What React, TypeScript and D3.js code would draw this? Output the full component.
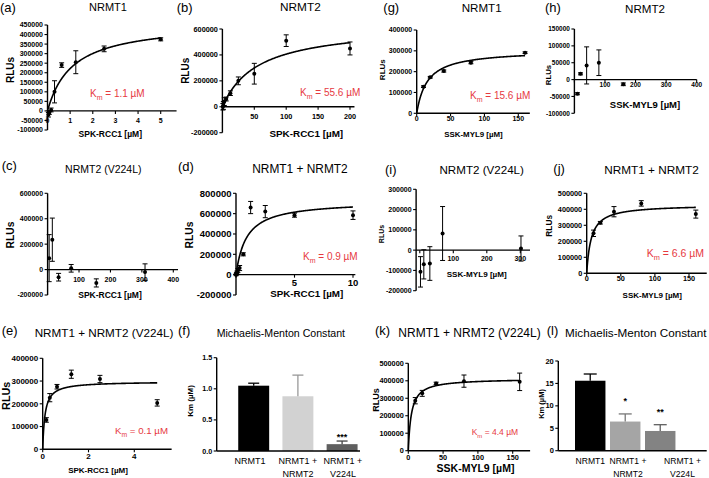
import * as React from 'react';
import * as d3 from 'd3';

// ---------- values ----------

// (a) NRMT1, SPK-RCC1
const aConc = [0.04, 0.08, 0.16, 0.31, 0.625, 1.25, 2.5, 5];
const aRlu = [-20000, -8000, 5000, 100000, 240000, 255000, 325000, 375000];
const aSem = [12000, 10000, 10000, 58000, 12000, 60000, 15000, 8000];
const aYTicks = [-100000, -50000, 0, 50000, 100000, 150000, 200000, 250000, 300000, 350000, 400000, 450000];
const aXTicks = [0, 1, 2, 3, 4, 5];

// (b) NRMT2, SPK-RCC1
const bConc = [0.8, 1.5, 3, 6, 12.5, 25, 50, 100, 200];
const bRlu = [0, 10000, 40000, 60000, 105000, 200000, 255000, 510000, 450000];
const bSem = [25000, 30000, 30000, 15000, 18000, 30000, 80000, 45000, 50000];
const bYTicks = [-200000, 0, 200000, 400000, 600000];
const bXTicks = [0, 50, 100, 150, 200];

// (c) NRMT2 (V224L), SPK-RCC1
const cConc = [5, 15, 35, 75, 155, 310];
const cRlu = [90000, 235000, -60000, 10000, -105000, -20000];
const cSem = [185000, 170000, 30000, 30000, 32000, 65000];
const cYTicks = [-200000, 0, 200000, 400000, 600000];
const cXTicks = [0, 100, 200, 300, 400];

// (d) NRMT1 + NRMT2, SPK-RCC1
const dConc = [0.02, 0.04, 0.08, 0.16, 0.31, 0.625, 1.25, 2.5, 5, 10];
const dRlu = [0, 10000, 20000, 40000, 65000, 200000, 660000, 620000, 585000, 585000];
const dSem = [10000, 10000, 15000, 20000, 25000, 15000, 60000, 60000, 20000, 42000];
const dYTicks = [-200000, 0, 200000, 400000, 600000, 800000];
const dXTicks = [0, 5, 10];

// (e) NRMT1 + NRMT2 (V224L), SPK-RCC1
const eConc = [0.16, 0.31, 0.625, 1.25, 2.5, 5];
const eRlu = [129000, 227000, 275000, 330000, 309000, 204000];
const eSem = [10000, 18000, 10000, 18000, 16000, 14000];
const eYTicks = [0, 100000, 200000, 300000, 400000];
const eXTicks = [0, 2, 4];

// (g) NRMT1, SSK-MYL9
const gConc = [10, 20, 40, 80, 160];
const gRlu = [128000, 173000, 203000, 243000, 291000];
const gSem = [4000, 4000, 5000, 5000, 4000];
const gYTicks = [0, 100000, 200000, 300000, 400000];
const gXTicks = [0, 50, 100, 150];

// (h) NRMT2, SSK-MYL9
const hConc = [10, 20, 40, 80, 160];
const hRlu = [-42000, 17000, 42000, 50000, -14000];
const hSem = [3000, 3000, 55000, 38000, 4000];
const hYTicks = [-100000, -50000, 0, 50000, 100000, 150000];
const hXTicks = [0, 100, 200, 300, 400];

// (i) NRMT2 (V224L), SSK-MYL9
const iConc = [2, 12, 30, 68, 302];
const iRlu = [-107000, -70000, -66000, 82000, 8000];
const iSem = [75000, 72000, 83000, 133000, 62000];
const iYTicks = [-200000, -100000, 0, 100000, 200000, 300000];
const iXTicks = [0, 100, 200, 300];

// (j) NRMT1 + NRMT2, SSK-MYL9
const jConc = [10, 20, 40, 80, 160];
const jRlu = [250000, 316000, 385000, 437000, 370000];
const jSem = [20000, 8000, 32000, 17000, 25000];
const jYTicks = [0, 100000, 200000, 300000, 400000, 500000];
const jXTicks = [0, 50, 100, 150];

// (k) NRMT1 + NRMT2 (V224L), SSK-MYL9
const kConc = [10, 20, 40, 80, 160];
const kRlu = [286000, 328000, 385000, 398000, 394000];
const kSem = [18000, 17000, 7000, 35000, 50000];
const kYTicks = [0, 100000, 200000, 300000, 400000, 500000];
const kXTicks = [0, 50, 100, 150];

// Michaelis-Menten fits (Km as printed, Vmax read from plateau)
const aKm = 1.1, aVmax = 466000;
const bKm = 55.6, bVmax = 632000;
const dKm = 0.9, dVmax = 725000;
const eKm = 0.1, eVmax = 298000;
const gKm = 15.6, gVmax = 304000;
const jKm = 6.6, jVmax = 429000;
const kKm = 4.4, kVmax = 413000;

// (f) / (l) Km bar charts
const kmGroups = ['NRMT1', 'NRMT1 +\nNRMT2', 'NRMT1 +\nV224L'];
const fKmVals = [1.05, 0.88, 0.11];
const fKmSem = [0.04, 0.34, 0.05];
const fSig = ['', '', '***'];
const fYTicks = [0, 0.5, 1.0, 1.5];
const lKmVals = [15.6, 6.5, 4.4];
const lKmSem = [1.5, 1.7, 1.4];
const lSig = ['', '*', '**'];
const lYTicks = [0, 5, 10, 15, 20];

const FONT = 'Liberation Sans, Arial, Helvetica, sans-serif';
const KM_RED = '#e6393f';
const MU = '\u00b5';
const RCC = `SPK-RCC1 [${MU}M]`;
const MYL = `SSK-MYL9 [${MU}M]`;

type Series = {
  letter: string; title: string; xTitle: string;
  conc: number[]; rlu: number[]; sem: number[];
  xTicks: number[]; yTicks: number[];
  km?: number; vmax?: number; fitTo?: number;
};

type Frame = {
  xDom: number[]; xPx: number[]; yDom: number[]; yPx: number[];
  xLo: number; xHi: number;
  tick: number; xGap: number; zeroX: boolean;
  letterAt: number[]; titleAt: number[]; titleSize: number; titleAnchor?: string;
  rlusAt: number[]; rlusSize: number;
  xTitleAt: number[]; xTitleSize: number;
  kmAt?: number[]; kmSize?: number;
};

function Scatter({ s, f }: { s: Series; f: Frame }) {
  const x = d3.scaleLinear().domain(f.xDom).range(f.xPx);
  const y = d3.scaleLinear().domain(f.yDom).range(f.yPx);
  const ax = x(f.xLo);
  const y0 = y(0);
  let fit: string | null = null;
  if (s.km !== undefined) {
    const xs = d3.range(0, 301).map((i) => s.fitTo! * (i / 300) ** 2);
    fit = d3.line<number>().x((c) => x(c)).y((c) => y((s.vmax! * c) / (s.km! + c)))(xs);
  }
  const ks = f.kmSize || 10;
  return (
    <g fontFamily={FONT}>
      <text x={f.letterAt[0]} y={f.letterAt[1]} fontSize={13}>{s.letter}</text>
      <text x={f.titleAt[0]} y={f.titleAt[1]} fontSize={f.titleSize} textAnchor={f.titleAnchor || 'middle'}>{s.title}</text>
      <text transform={`translate(${f.rlusAt[0]},${f.rlusAt[1]}) rotate(-90)`} textAnchor="middle" dy="0.35em" fontWeight="bold" fontSize={f.rlusSize}>RLUs</text>
      <text x={f.xTitleAt[0]} y={f.xTitleAt[1]} textAnchor="middle" fontWeight="bold" fontSize={f.xTitleSize}>{s.xTitle}</text>

      <line x1={ax} x2={ax} y1={y(s.yTicks[0])} y2={y(s.yTicks[s.yTicks.length - 1])} stroke="#000" strokeWidth={1.4} />
      {s.yTicks.map((t) => (
        <g key={'y' + t}>
          <line x1={ax - 3} x2={ax} y1={y(t)} y2={y(t)} stroke="#000" strokeWidth={1.1} />
          <text x={ax - 4.5} y={y(t)} dy="0.35em" textAnchor="end" fontSize={f.tick} fontWeight="bold">{t}</text>
        </g>
      ))}
      <line x1={ax} x2={x(f.xHi)} y1={y0} y2={y0} stroke="#000" strokeWidth={1.4} />
      {s.xTicks.map((t) => (
        <g key={'x' + t}>
          <line x1={x(t)} x2={x(t)} y1={y0} y2={y0 + 3} stroke="#000" strokeWidth={1.1} />
          {(t !== 0 || f.zeroX) && (
            <text x={x(t)} y={y0 + f.xGap} textAnchor="middle" fontSize={f.tick} fontWeight="bold">{t}</text>
          )}
        </g>
      ))}

      {fit && <path d={fit} fill="none" stroke="#000" strokeWidth={1.6} />}
      {s.conc.map((c, i) => {
        const cx = x(c);
        const hi = y(s.rlu[i] + s.sem[i]);
        const lo = y(s.rlu[i] - s.sem[i]);
        return (
          <g key={'p' + i} stroke="#000" strokeWidth={1}>
            <line x1={cx} x2={cx} y1={hi} y2={lo} />
            <line x1={cx - 2.5} x2={cx + 2.5} y1={hi} y2={hi} />
            <line x1={cx - 2.5} x2={cx + 2.5} y1={lo} y2={lo} />
            <circle cx={cx} cy={y(s.rlu[i])} r={2} fill="#000" stroke="none" />
          </g>
        );
      })}

      {s.km !== undefined && f.kmAt && (
        <text x={f.kmAt[0]} y={f.kmAt[1]} fontSize={ks} fill={KM_RED}>
          K<tspan dy={ks * 0.3} fontSize={ks * 0.7}>m</tspan>
          <tspan dy={-ks * 0.3}>{` = ${s.km} ${MU}M`}</tspan>
        </text>
      )}
    </g>
  );
}

type BarFrame = {
  yDom: number[]; yPx: number[]; axisX: number; xEnd: number;
  band: number[]; padIn: number; padOut: number;
  tick: number; fmt: string;
  yTitleAt: number[]; yTitleSize: number;
  letterAt: number[]; titleAt: number[]; titleSize: number;
  catSize: number; catX: number[]; catY: number[]; colors: string[]; cap: number; starGap: number;
};

function Bars({ letter, vals, sem, sig, ticks, f }: {
  letter: string; vals: number[]; sem: number[]; sig: string[]; ticks: number[]; f: BarFrame;
}) {
  const x = d3.scaleBand<string>().domain(kmGroups).range([f.band[0], f.band[1]]).paddingInner(f.padIn).paddingOuter(f.padOut);
  const y = d3.scaleLinear().domain(f.yDom).range(f.yPx);
  const fmt = d3.format(f.fmt);
  const y0 = y(0);
  return (
    <g fontFamily={FONT}>
      <text x={f.letterAt[0]} y={f.letterAt[1]} fontSize={13}>{letter}</text>
      <text x={f.titleAt[0]} y={f.titleAt[1]} fontSize={f.titleSize}>Michaelis-Menton Constant</text>
      <text transform={`translate(${f.yTitleAt[0]},${f.yTitleAt[1]}) rotate(-90)`} textAnchor="middle" dy="0.35em" fontWeight="bold" fontSize={f.yTitleSize}>{`Km (${MU}M)`}</text>
      {kmGroups.map((g, i) => {
        const bx = x(g)!;
        const bw = x.bandwidth();
        const cx = bx + bw / 2;
        const top = y(vals[i] + sem[i]);
        const ec = i === 0 ? '#000' : d3.color(f.colors[i])!.darker(0.9).formatHex();
        return (
          <g key={g}>
            <rect x={bx} y={y(vals[i])} width={bw} height={y0 - y(vals[i])} fill={f.colors[i]} />
            <line x1={cx} x2={cx} y1={y(vals[i])} y2={top} stroke={ec} strokeWidth={1.3} />
            <line x1={cx - f.cap / 2} x2={cx + f.cap / 2} y1={top} y2={top} stroke={ec} strokeWidth={1.3} />
            {sig[i] && (
              <text x={cx} y={top - f.starGap + 5} textAnchor="middle" fontSize={9} fontWeight="bold">{sig[i]}</text>
            )}
            {g.split('\n').map((ln, k) => (
              <text key={k} x={f.catX[i]} y={f.catY[k]} textAnchor="middle" fontSize={f.catSize}>{ln}</text>
            ))}
          </g>
        );
      })}
      <line x1={f.axisX} x2={f.axisX} y1={y0} y2={y(ticks[ticks.length - 1])} stroke="#000" strokeWidth={1.4} />
      {ticks.map((t) => (
        <g key={t}>
          <line x1={f.axisX - 3} x2={f.axisX} y1={y(t)} y2={y(t)} stroke="#000" strokeWidth={1.1} />
          <text x={f.axisX - 4.5} y={y(t)} dy="0.35em" textAnchor="end" fontSize={f.tick} fontWeight="bold">{fmt(t)}</text>
        </g>
      ))}
      <line x1={f.axisX} x2={f.xEnd} y1={y0} y2={y0} stroke="#000" strokeWidth={1.4} />
    </g>
  );
}

const series: { s: Series; f: Frame }[] = [
  {
    s: { letter: '(a)', title: 'NRMT1', xTitle: RCC, conc: aConc, rlu: aRlu, sem: aSem, xTicks: aXTicks, yTicks: aYTicks, km: aKm, vmax: aVmax, fitTo: 5 },
    f: { xDom: [0, 5], xPx: [47.5, 160.7], yDom: [-100000, 450000], yPx: [130, 25], xLo: 0, xHi: 5.7, tick: 7, xGap: 11.7, zeroX: true,
      letterAt: [0, 12], titleAt: [108, 11], titleSize: 11, rlusAt: [10.5, 70], rlusSize: 10, xTitleAt: [110.3, 137], xTitleSize: 8.5, kmAt: [90, 97], kmSize: 10 },
  },
  {
    s: { letter: '(b)', title: 'NRMT2', xTitle: RCC, conc: bConc, rlu: bRlu, sem: bSem, xTicks: bXTicks, yTicks: bYTicks, km: bKm, vmax: bVmax, fitTo: 200 },
    f: { xDom: [0, 200], xPx: [222.4, 350], yDom: [-200000, 600000], yPx: [132.7, 29], xLo: 0, xHi: 207, tick: 7.3, xGap: 12.6, zeroX: false,
      letterAt: [176.7, 12], titleAt: [300.4, 11], titleSize: 11.8, rlusAt: [185.5, 70.8], rlusSize: 10, xTitleAt: [306.3, 137], xTitleSize: 9.9, kmAt: [300, 95.7], kmSize: 10 },
  },
  {
    s: { letter: '(g)', title: 'NRMT1', xTitle: MYL, conc: gConc, rlu: gRlu, sem: gSem, xTicks: gXTicks, yTicks: gYTicks, km: gKm, vmax: gVmax, fitTo: 160 },
    f: { xDom: [0, 150], xPx: [416.7, 518.3], yDom: [0, 400000], yPx: [113.3, 30], xLo: 0, xHi: 167, tick: 7, xGap: 7.4, zeroX: true,
      letterAt: [383.3, 12], titleAt: [481.7, 11.5], titleSize: 11.6, rlusAt: [381.7, 69.7], rlusSize: 8, xTitleAt: [473.5, 137.3], xTitleSize: 7.9, kmAt: [470, 99], kmSize: 10 },
  },
  {
    s: { letter: '(h)', title: 'NRMT2', xTitle: MYL, conc: hConc, rlu: hRlu, sem: hSem, xTicks: hXTicks, yTicks: hYTicks },
    f: { xDom: [0, 400], xPx: [574.4, 696.7], yDom: [-100000, 150000], yPx: [113.3, 29], xLo: 0, xHi: 400, tick: 6.5, xGap: 7.7, zeroX: false,
      letterAt: [545, 12], titleAt: [645, 12.5], titleSize: 11.6, rlusAt: [548, 75], rlusSize: 7.8, xTitleAt: [645, 108.3], xTitleSize: 9.5 },
  },
  {
    s: { letter: '(c)', title: 'NRMT2 (V224L)', xTitle: RCC, conc: cConc, rlu: cRlu, sem: cSem, xTicks: cXTicks, yTicks: cYTicks },
    f: { xDom: [0, 400], xPx: [47.6, 173.3], yDom: [-200000, 600000], yPx: [295, 193.3], xLo: 0, xHi: 415, tick: 7, xGap: 12.4, zeroX: false,
      letterAt: [1.7, 170], titleAt: [103.3, 173], titleSize: 10.5, rlusAt: [10.5, 235], rlusSize: 10.3, xTitleAt: [110, 298.3], xTitleSize: 8.5 },
  },
  {
    s: { letter: '(d)', title: 'NRMT1 + NRMT2', xTitle: RCC, conc: dConc, rlu: dRlu, sem: dSem, xTicks: dXTicks, yTicks: dYTicks, km: dKm, vmax: dVmax, fitTo: 10 },
    f: { xDom: [0, 10], xPx: [236, 353], yDom: [-200000, 800000], yPx: [295, 193.3], xLo: 0, xHi: 10.2, tick: 9.5, xGap: 11.7, zeroX: false,
      letterAt: [178, 171], titleAt: [300, 173], titleSize: 11.9, rlusAt: [189, 235], rlusSize: 10.3, xTitleAt: [306.7, 296.7], xTitleSize: 9.8, kmAt: [303, 260], kmSize: 10 },
  },
  {
    s: { letter: '(i)', title: 'NRMT2 (V224L)', xTitle: MYL, conc: iConc, rlu: iRlu, sem: iSem, xTicks: iXTicks, yTicks: iYTicks },
    f: { xDom: [0, 300], xPx: [419.8, 520.3], yDom: [-200000, 300000], yPx: [290.7, 189.3], xLo: -11, xHi: 329, tick: 7, xGap: 11, zeroX: false,
      letterAt: [385, 174], titleAt: [481.7, 174], titleSize: 11.6, rlusAt: [381.7, 234], rlusSize: 7, xTitleAt: [476.7, 276.7], xTitleSize: 8.1 },
  },
  {
    s: { letter: '(j)', title: 'NRMT1 + NRMT2', xTitle: MYL, conc: jConc, rlu: jRlu, sem: jSem, xTicks: jXTicks, yTicks: jYTicks, km: jKm, vmax: jVmax, fitTo: 160 },
    f: { xDom: [0, 150], xPx: [586.7, 689], yDom: [0, 500000], yPx: [273.3, 193.3], xLo: 0, xHi: 176, tick: 7.3, xGap: 7.4, zeroX: true,
      letterAt: [553.3, 173], titleAt: [651.5, 173.5], titleSize: 11.8, rlusAt: [549, 225.8], rlusSize: 8.3, xTitleAt: [652.2, 298.3], xTitleSize: 8, kmAt: [646.7, 257.3], kmSize: 10.5 },
  },
  {
    s: { letter: '(e)', title: 'NRMT1 + NRMT2 (V224L)', xTitle: RCC, conc: eConc, rlu: eRlu, sem: eSem, xTicks: eXTicks, yTicks: eYTicks, km: eKm, vmax: eVmax, fitTo: 5 },
    f: { xDom: [0, 4], xPx: [42.7, 134.3], yDom: [0, 400000], yPx: [449.3, 358.3], xLo: 0, xHi: 5.63, tick: 8, xGap: 10, zeroX: true,
      letterAt: [1.7, 335], titleAt: [104, 337], titleSize: 11.7, rlusAt: [6.7, 395.8], rlusSize: 10.8, xTitleAt: [98, 473.3], xTitleSize: 8, kmAt: [115, 434.3], kmSize: 9.7 },
  },
  {
    s: { letter: '(k)', title: 'NRMT1 + NRMT2 (V224L)', xTitle: MYL, conc: kConc, rlu: kRlu, sem: kSem, xTicks: kXTicks, yTicks: kYTicks, km: kKm, vmax: kVmax, fitTo: 160 },
    f: { xDom: [0, 150], xPx: [408.3, 512.7], yDom: [0, 500000], yPx: [450.7, 363.3], xLo: 0, xHi: 175, tick: 7.3, xGap: 9.3, zeroX: true,
      letterAt: [375, 335], titleAt: [398.3, 337], titleSize: 12, titleAnchor: 'start', rlusAt: [375.8, 400], rlusSize: 9, xTitleAt: [475.5, 471.7], xTitleSize: 10.5, kmAt: [471.7, 435], kmSize: 8.5 },
  },
];

const fFrame: BarFrame = {
  yDom: [0, 1.5], yPx: [451, 357.7], axisX: 216.7, xEnd: 360, band: [231.6, 364.2], padIn: 0.3, padOut: 0.15,
  tick: 7.2, fmt: '.1f', yTitleAt: [190, 401], yTitleSize: 8, letterAt: [178, 335], titleAt: [216.7, 337], titleSize: 10.6,
  catSize: 9, catX: [250, 298, 343], catY: [464, 477], colors: ['#000000', '#d2d2d2', '#5f5f5f'], cap: 11, starGap: 6,
};

const lFrame: BarFrame = {
  yDom: [0, 20], yPx: [450.7, 361], axisX: 558.3, xEnd: 706.7, band: [569.75, 680.7], padIn: 0.13, padOut: 0.15,
  tick: 7.5, fmt: 'd', yTitleAt: [541.3, 404], yTitleSize: 7.5, letterAt: [546.7, 335], titleAt: [565, 337], titleSize: 11.7,
  catSize: 8.6, catX: [590.3, 628, 682.5], catY: [464, 477], colors: ['#000000', '#a5a5a5', '#838383'], cap: 13, starGap: 15,
};

export default function App() {
  return (
    <svg width={709} height={478} viewBox="0 0 709 478" style={{ position: 'absolute', left: 0, top: 0, background: '#fff' }}>
      <rect width={709} height={478} fill="#fff" />
      {series.map((p, i) => <Scatter key={i} s={p.s} f={p.f} />)}
      <Bars letter="(f)" vals={fKmVals} sem={fKmSem} sig={fSig} ticks={fYTicks} f={fFrame} />
      <Bars letter="(l)" vals={lKmVals} sem={lKmSem} sig={lSig} ticks={lYTicks} f={lFrame} />
    </svg>
  );
}
